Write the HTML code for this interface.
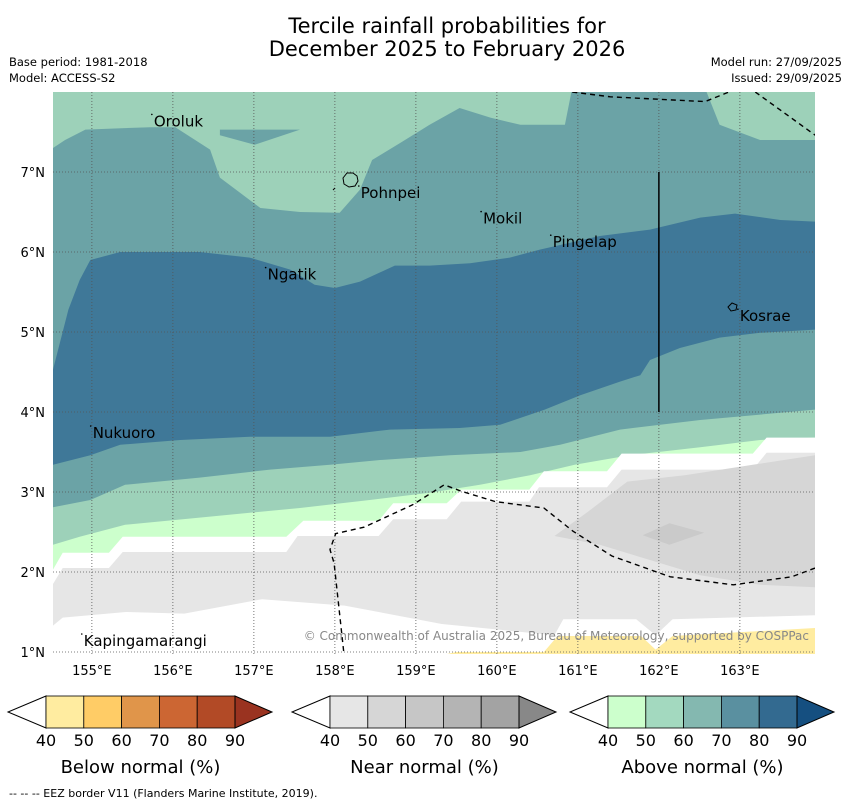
<!DOCTYPE html>
<html><head><meta charset="utf-8">
<style>
html,body{margin:0;padding:0;background:#fff;}
body{width:850px;height:804px;overflow:hidden;font-family:"Liberation Sans","DejaVu Sans",sans-serif;}
svg text{font-family:"DejaVu Sans","Liberation Sans",sans-serif;}
</style></head>
<body>
<svg id="chart" width="850" height="804" viewBox="0 0 850 804" xmlns="http://www.w3.org/2000/svg">
<text x="447" y="33" font-size="21" text-anchor="middle">Tercile rainfall probabilities for</text>
<text x="447" y="56" font-size="21" text-anchor="middle">December 2025 to February 2026</text>
<text x="9" y="66" font-size="11.5">Base period: 1981-2018</text>
<text x="9" y="82" font-size="11.5">Model: ACCESS-S2</text>
<text x="842" y="66" font-size="11.5" text-anchor="end">Model run: 27/09/2025</text>
<text x="842" y="82" font-size="11.5" text-anchor="end">Issued: 29/09/2025</text>
<defs><clipPath id="mapclip"><rect x="53" y="92" width="762" height="562"/></clipPath></defs>
<g id="map" clip-path="url(#mapclip)"></g>
<g id="axes"></g>
<g id="bars"></g>
<text x="9" y="797" font-size="11">--  --  -- EEZ border V11 (Flanders Marine Institute, 2019).</text>
</svg>
<script>
// ---- data (lon, lat) ----
const lonTicks = [155,156,157,158,159,160,161,162,163];
const latTicks = [1,2,3,4,5,6,7];
const tealTopEdge = [[154.52,7.30],[154.67,7.40],[154.92,7.53],[155.72,7.56],[156.03,7.56],[156.46,7.28],[156.58,6.93],[157.08,6.55],[157.57,6.50],[158.06,6.49],[158.31,6.78],[158.46,7.15],[158.80,7.36],[159.17,7.59],[159.54,7.80],[159.92,7.68],[160.29,7.59],[160.84,7.59],[160.93,8.05],[162.57,8.05],[162.75,7.59],[163.25,7.40],[163.93,7.40]];
const tealStreak = [[156.58,7.53],[157.57,7.53],[157.01,7.34],[156.58,7.46]];
const blueTopEdge = [[154.52,4.53],[154.71,5.28],[154.85,5.65],[154.98,5.90],[155.35,6.0],[156.33,6.0],[156.95,5.93],[157.45,5.78],[157.75,5.59],[158.0,5.55],[158.31,5.63],[158.74,5.83],[159.17,5.83],[159.67,5.86],[160.16,5.93],[160.53,6.03],[161.27,6.2],[161.89,6.28],[162.51,6.43],[162.94,6.48],[163.5,6.4],[163.93,6.38]];
const blueBottomEdge = [[154.52,3.34],[154.98,3.46],[155.35,3.59],[156.09,3.65],[156.95,3.69],[157.94,3.69],[158.68,3.78],[159.54,3.8],[160.04,3.84],[160.59,4.03],[161.03,4.21],[161.52,4.38],[161.77,4.46],[161.89,4.65],[162.26,4.8],[162.75,4.93],[163.25,4.99],[163.93,5.03]];
const tealBottomEdge = [[154.52,2.81],[154.98,2.9],[155.41,3.09],[156.33,3.18],[157.2,3.28],[157.94,3.34],[158.56,3.4],[159.42,3.46],[160.29,3.5],[160.78,3.59],[161.52,3.78],[162.51,3.9],[163.93,4.03]];
const greenBottomEdge = [[154.52,2.34],[154.85,2.44],[155.41,2.59],[156.33,2.68],[156.95,2.74],[157.57,2.8],[158.43,2.9],[159.17,2.99],[159.79,3.09],[160.41,3.21],[160.96,3.34],[161.64,3.46],[162.51,3.56],[163.25,3.65],[163.93,3.68]];
const paleBottomEdge = [[154.52,2.03],[154.64,2.24],[155.21,2.24],[155.38,2.44],[157.40,2.44],[157.61,2.64],[158.54,2.64],[158.72,2.86],[159.38,2.86],[159.56,3.03],[160.40,3.03],[160.58,3.26],[161.36,3.26],[161.54,3.48],[163.16,3.48],[163.33,3.68],[163.93,3.68]];
const greyTopEdge = [[154.52,1.85],[154.64,2.05],[155.21,2.05],[155.38,2.25],[157.40,2.25],[157.54,2.45],[158.54,2.45],[158.72,2.66],[159.38,2.66],[159.56,2.88],[160.40,2.88],[160.52,3.06],[161.36,3.06],[161.54,3.28],[163.16,3.28],[163.33,3.49],[163.93,3.49]];
const greyBottomEdge = [[154.52,1.33],[154.64,1.43],[155.42,1.5],[156.14,1.48],[157.1,1.66],[158.12,1.58],[159.32,1.35],[160.71,1.21],[160.82,1.41],[161.72,1.41],[161.96,1.21],[162.17,1.41],[163.93,1.46]];
const yellowTopEdge = [[159.03,0.9],[159.5,1.0],[160.58,1.0],[160.75,1.2],[161.78,1.2],[161.96,1.03],[162.17,1.2],[163.93,1.3]];
const greyMidPatch = [[160.71,2.45],[161.12,2.75],[161.61,3.13],[162.32,3.21],[163.16,3.34],[163.93,3.46],[163.93,1.81],[163.25,1.84],[162.51,1.96],[161.89,2.15],[161.27,2.34]];
const greyDarkPatch = [[161.8,2.46],[162.13,2.61],[162.56,2.49],[162.13,2.34]];
const eezNorth = [[160.93,8.0],[161.4,7.94],[162.57,7.88],[162.94,8.03]];
const eezNorthEast = [[163.19,8.0],[163.93,7.46]];
const eezSouth = [[158.12,0.9],[157.99,2.11],[157.94,2.28],[158.01,2.48],[158.36,2.56],[158.96,2.84],[159.35,3.09],[159.56,3.01],[159.98,2.88],[160.58,2.8],[160.94,2.51],[161.42,2.2],[162.14,1.94],[162.92,1.84],[163.64,1.94],[163.93,2.05]];
const islandNames = ["Oroluk","Pohnpei","Mokil","Pingelap","Ngatik","Kosrae","Nukuoro","Kapingamarangi"];
const islandLon = [155.765,158.32,159.83,160.69,157.17,163.0,155.01,154.9];
const islandLat = [7.645,6.75,6.43,6.135,5.73,5.21,3.75,1.15];
const barLabels = ["40","50","60","70","80","90"];
const barTitles = ["Below normal (%)","Near normal (%)","Above normal (%)"];

// ---- axes ----
const x = lon => 53 + (lon - 154.52) * 81;
const y = lat => 92 + (8.0 - lat) * 80;
const NS = 'http://www.w3.org/2000/svg';
const map = document.getElementById('map');
const axes = document.getElementById('axes');
const bars = document.getElementById('bars');
function mk(tag, attrs, parent){const e=document.createElementNS(NS,tag);for(const k in attrs)e.setAttribute(k,attrs[k]);parent.appendChild(e);return e;}
const pts = arr => arr.map(p => x(p[0]).toFixed(1)+','+y(p[1]).toFixed(1)).join(' ');
function below(edge){return pts(edge)+' '+x(164.2)+','+y(0.5)+' '+x(154.3)+','+y(0.5);}

let bg = mk('rect',{x:53,y:92,width:762,height:562,fill:'#9dd1b9'},map);


const layers = [
 ['region-above-60-north', below(tealTopEdge), '#6ba3a6'],
 ['region-above-60-streak', pts(tealStreak), '#6ba3a6'],
 ['region-above-70', below(blueTopEdge), '#3f7898'],
 ['region-above-60-south', below(blueBottomEdge), '#6ba3a6'],
 ['region-above-50-south', below(tealBottomEdge), '#9dd1b9'],
 ['region-above-40-south', below(greenBottomEdge), '#ccffcc'],
 ['region-no-signal-1', below(paleBottomEdge), '#ffffff'],
 ['region-near-40', below(greyTopEdge), '#e6e6e6'],
 ['region-near-50', pts(greyMidPatch), '#d6d6d6'],
 ['region-near-60', pts(greyDarkPatch), '#cacaca'],
 ['region-no-signal-2', below(greyBottomEdge), '#ffffff'],
 ['region-below-40', below(yellowTopEdge), '#ffeca0']
];
layers.forEach(l=>{
  const p = mk('polygon',{points:l[1],fill:l[2]},map);
  
  
});
lonTicks.forEach(v=>{
  const g = mk('line',{x1:x(v),x2:x(v),y1:92,y2:654,stroke:'#555',"stroke-width":0.8,"stroke-dasharray":"1,2"},map);
  
  
});
latTicks.forEach(v=>{
  const g = mk('line',{x1:53,x2:815,y1:y(v),y2:y(v),stroke:'#555',"stroke-width":0.8,"stroke-dasharray":"1,2"},map);
  
  
});
[eezNorth,eezNorthEast,eezSouth].forEach(e=>{
  const l = mk('polyline',{points:pts(e),fill:'none',stroke:'#000',"stroke-width":1.4,"stroke-dasharray":"5,4"},map);
  
  
});
let vl = mk('line',{x1:x(162),x2:x(162),y1:y(7),y2:y(4),stroke:'#000',"stroke-width":1.5},map);


let poh = mk('path',{d:'M343,178 l4,-5 6,0 4,3 1,5 -3,5 -6,1 -5,-3 z M333,190 l2,-2',fill:'none',stroke:'#000',"stroke-width":1},map);


let kos = mk('path',{d:'M728,307 l4,-4 5,2 -1,5 -5,1 z',fill:'none',stroke:'#000',"stroke-width":1},map);


islandNames.forEach((n,i)=>{
  const d = mk('circle',{cx:x(islandLon[i])-2,cy:y(islandLat[i])-6,r:0.8,fill:'#000'},map);
  
  
  const t = mk('text',{x:x(islandLon[i]),y:y(islandLat[i])+6,"font-size":15,fill:'#000'},map);
  t.textContent = n;
  
  
});
let cp = mk('text',{x:809,y:640,"font-size":12,fill:'#888',"text-anchor":"end"},map);
cp.textContent = '© Commonwealth of Australia 2025, Bureau of Meteorology, supported by COSPPac';


lonTicks.forEach(v=>{
  const t = mk('text',{x:x(v),y:675,"font-size":13,"text-anchor":"middle"},axes);
  t.textContent = v+'°E';
  
  
});
latTicks.forEach(v=>{
  const t = mk('text',{x:45,y:y(v)+5,"font-size":13,"text-anchor":"end"},axes);
  t.textContent = v+'°N';
  
  
});
const barColors = [
 ['#ffeca0','#ffcc66','#e0954a','#cc6633','#b24a26','#9a3320'],
 ['#e6e6e6','#d6d6d6','#c6c6c6','#b4b4b4','#a3a3a3','#888888'],
 ['#ccffcc','#a3d9bf','#84b8b0','#5a90a0','#336a90','#154f80']];
const barStart = [46,330,608];
const bw = 37.8, by = 696, bh = 32;
barStart.forEach((s,bi)=>{
  const l = mk('polygon',{points:`${s},${by} ${s-38},${by+bh/2} ${s},${by+bh}`,fill:'#fff',stroke:'#000',"stroke-width":1},bars);
  
  
  for(let k=0;k<5;k++){
    const r = mk('rect',{x:s+k*bw,y:by,width:bw,height:bh,fill:barColors[bi][k],stroke:'#000',"stroke-width":0.8},bars);
    
    
  }
  const e = s+5*bw;
  const h = mk('polygon',{points:`${e},${by} ${e+37},${by+bh/2} ${e},${by+bh}`,fill:barColors[bi][5],stroke:'#000',"stroke-width":1},bars);
  
  
  barLabels.forEach((lb,k)=>{
    const t = mk('text',{x:s+k*bw,y:746,"font-size":16,"text-anchor":"middle"},bars);
    t.textContent = lb;
    
    
  });
  const tt = mk('text',{x:s+2.5*bw,y:773,"font-size":18,"text-anchor":"middle"},bars);
  tt.textContent = barTitles[bi];
  
  
});
</script>
</body></html>
